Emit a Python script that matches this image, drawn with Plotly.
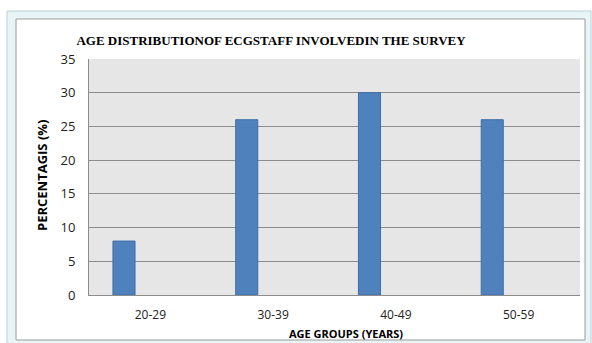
import plotly.graph_objects as go

categories = ["20-29", "30-39", "40-49", "50-59"]
values = [8, 26, 30, 26]
y_ticks = [0, 5, 10, 15, 20, 25, 30, 35]

W, H = 592, 343
L, R, T, B = 89, 12, 59, 48
pw, ph = W - L - R, H - T - B

def px(x):
    return (x - L) / pw

def py(y):
    return (H - B - y) / ph

fig = go.Figure()
fig.add_trace(go.Bar(
    x=categories, y=values,
    width=0.18, offset=-0.305,
    marker=dict(color="#4f81bd", line=dict(color="#3f6fa8", width=1)),
))

shapes = [
    dict(type="rect", xref="paper", yref="paper", layer="below",
         x0=px(7), x1=px(591), y0=py(11), y1=py(345),
         fillcolor="#e9f4f7", line=dict(color="#b9d0d8", width=1)),
    dict(type="rect", xref="paper", yref="paper", layer="below",
         x0=px(16), x1=px(585), y0=py(19), y1=py(340),
         fillcolor="white", line=dict(color="#9a9a9a", width=1)),
    dict(type="rect", xref="paper", yref="paper", layer="below",
         x0=0, x1=1, y0=0, y1=1,
         fillcolor="#e6e6e6", line=dict(width=0)),
]

annotations = [
    dict(text="<b>AGE GROUPS (YEARS)</b>", xref="paper", yref="paper",
         x=px(346), y=py(333), xanchor="center", yanchor="middle",
         showarrow=False,
         font=dict(family="Open Sans", size=11, color="black")),
    dict(text="<b>PERCENTAGIS (%)</b>", xref="paper", yref="paper",
         x=px(42), y=py(176), xanchor="center", yanchor="middle",
         textangle=-90, showarrow=False,
         font=dict(family="Open Sans", size=13, color="black")),
]

fig.update_layout(
    width=W, height=H,
    margin=dict(l=L, r=R, t=T, b=B),
    paper_bgcolor="white",
    plot_bgcolor="rgba(0,0,0,0)",
    showlegend=False,
    shapes=shapes,
    annotations=annotations,
    title=dict(
        text="<b>AGE DISTRIBUTIONOF ECGSTAFF INVOLVEDIN THE SURVEY</b>",
        x=271 / W, xanchor="center", y=1 - 40 / H, yanchor="middle",
        font=dict(family="Liberation Serif", size=13, color="black"),
    ),
    xaxis=dict(
        showgrid=False, showline=True, linecolor="#8c8c8c", linewidth=1,
        ticks="", ticklabelstandoff=9,
        tickfont=dict(family="Open Sans", size=12, color="#222"),
    ),
    yaxis=dict(
        range=[0, 35], tickvals=y_ticks,
        showgrid=True, gridcolor="#8c8c8c", gridwidth=1,
        showline=True, linecolor="#8c8c8c", linewidth=1,
        ticks="", ticklabelstandoff=10,
        tickfont=dict(family="Open Sans", size=13, color="#222"),
        zeroline=False,
    ),
)

fig.write_html("out.html")
